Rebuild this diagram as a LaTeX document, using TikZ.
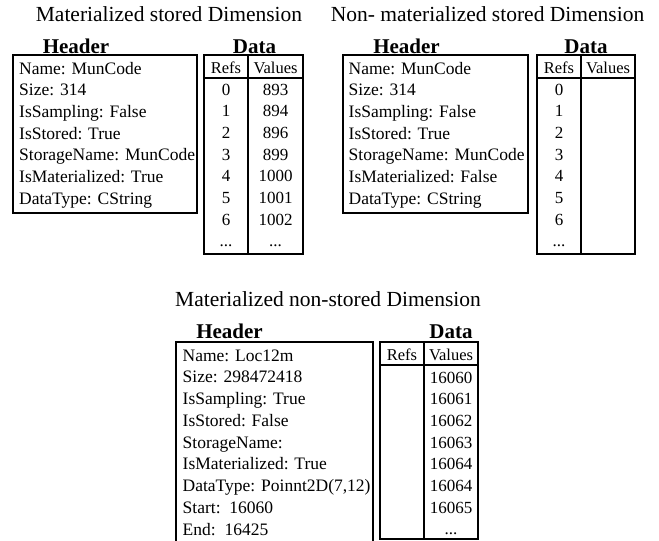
\documentclass[tikz,border=0pt]{standalone}
\usepackage{fontspec}
\setmainfont{Liberation Serif}
\newcommand\moredots{...}
\begin{document}
\begin{tikzpicture}[x=1pt,y=-1pt,
  title/.style={font=\fontsize{21.5}{24}\selectfont, anchor=base, inner sep=0},
  label/.style={font=\fontsize{21}{24}\selectfont\bfseries, anchor=base, inner sep=0},
  field/.style={font=\fontsize{17.5}{20}\selectfont, anchor=base west, inner sep=0},
  cell/.style={font=\fontsize{17}{20}\selectfont, anchor=base, inner sep=0},
  colhead/.style={font=\fontsize{16.5}{20}\selectfont, anchor=base, inner sep=0},
  frame/.style={draw, line width=1.9pt},
  rule/.style={line width=1.7pt}]
\useasboundingbox (0,0) rectangle (659,541);

% ---------- Materialized stored Dimension ----------
\node[title] (t1) at (169,21) {Materialized stored Dimension};
\node[label] (h1) at (76,53) {Header};
\node[label] (d1) at (254.5,53) {Data};
\draw[frame] (13,55) rectangle (197,213);
\foreach \t [count=\i from 0] in {Name: MunCode, Size: 314, IsSampling: False,
    IsStored: True, StorageName: MunCode, IsMaterialized: True, DataType: CString}
  \node[field] (fa\i) at (19,{74+21.7*\i}) {\t};
\draw[frame] (204,55) rectangle (303,254);
\draw[rule] (248,55) -- (248,254);
\draw[rule] (204,78) -- (303,78);
\node[colhead] (ra) at (226,73) {Refs};
\node[colhead] (va) at (275.5,73) {Values};
\foreach \r/\v [count=\i from 0] in {0/893, 1/894, 2/896, 3/899, 4/1000, 5/1001, 6/1002, \moredots/\moredots}{
  \node[cell] (ra\i) at (226,{95+21.7*\i}) {\r};
  \node[cell] (va\i) at (275.5,{95+21.7*\i}) {\v};
}

% ---------- Non-materialized stored Dimension ----------
\node[title] (t2) at (487.5,21) {Non- materialized stored Dimension};
\node[label] (h2) at (406.5,53) {Header};
\node[label] (d2) at (586,53) {Data};
\draw[frame] (343,55) rectangle (528,213);
\foreach \t [count=\i from 0] in {Name: MunCode, Size: 314, IsSampling: False,
    IsStored: True, StorageName: MunCode, IsMaterialized: False, DataType: CString}
  \node[field] (fb\i) at (348.5,{74+21.7*\i}) {\t};
\draw[frame] (537,55) rectangle (635,254);
\draw[rule] (581,55) -- (581,254);
\draw[rule] (537,78) -- (635,78);
\node[colhead] (rb) at (559,73) {Refs};
\node[colhead] (vb) at (608,73) {Values};
\foreach \r [count=\i from 0] in {0, 1, 2, 3, 4, 5, 6, \moredots}
  \node[cell] (rb\i) at (559,{95+21.7*\i}) {\r};

% ---------- Materialized non-stored Dimension ----------
\node[title] (t3) at (328,306.5) {Materialized non-stored Dimension};
\node[label] (h3) at (229.5,338) {Header};
\node[label] (d3) at (451,338) {Data};
\draw[frame] (176,342) rectangle (373,541.5);
\foreach \t [count=\i from 0] in {Name: Loc12m, Size: 298472418, IsSampling: True,
    IsStored: False, StorageName:, IsMaterialized: True, {DataType: Poinnt2D(7,12)},
    Start:~~16060, End:~~16425}
  \node[field] (fc\i) at (182.5,{361+21.75*\i}) {\t};
\draw[frame] (380,342) rectangle (478,539);
\draw[rule] (424,342) -- (424,539);
\draw[rule] (380,365) -- (478,365);
\node[colhead] (rc) at (402,360) {Refs};
\node[colhead] (vc) at (451,360) {Values};
\foreach \v [count=\i from 0] in {16060, 16061, 16062, 16063, 16064, 16064, 16065, \moredots}
  \node[cell] (vc\i) at (451,{383+21.7*\i}) {\v};
\end{tikzpicture}
\end{document}
